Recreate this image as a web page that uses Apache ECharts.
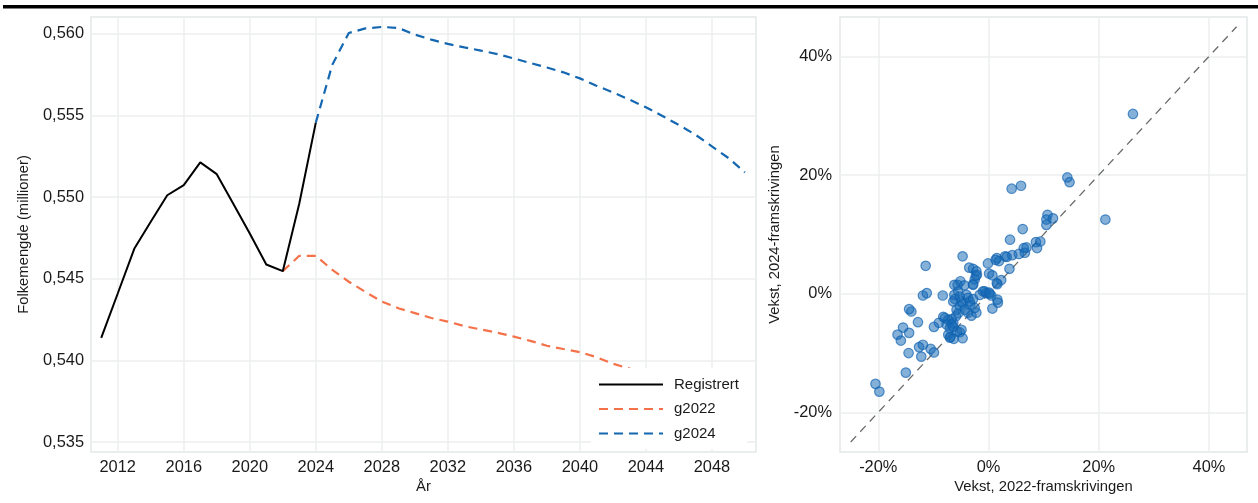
<!DOCTYPE html>
<html>
<head>
<meta charset="utf-8">
<script src="https://cdn.jsdelivr.net/npm/echarts@6/dist/echarts.min.js"></script>
<style>
html,body{margin:0;padding:0;background:#fff;}
#chart{width:1258px;height:503px;}
</style>
</head>
<body>
<div id="chart"></div>
<script>
// ---- Left panel data ----
const registrertYears = [2011,2012,2013,2014,2015,2016,2017,2018,2019,2020,2021,2022,2023,2024];
const registrertValues = [0.54138,0.5441,0.54684,0.5485,0.55012,0.55074,0.55213,0.55141,0.5496,0.54778,0.54588,0.54547,0.54961,0.55457];

const g2022Years = [2022,2023,2024,2025,2026,2027,2028,2029,2030,2031,2032,2033,2034,2035,2036,2037,2038,2039,2040,2041,2042,2043,2044,2045,2046,2047,2048,2049,2050];
const g2022Values = [0.54547,0.54641,0.54641,0.54555,0.54482,0.5442,0.54361,0.5432,0.5429,0.5426,0.54238,0.5421,0.5419,0.5417,0.54146,0.5412,0.5409,0.5407,0.54051,0.5402,0.5398,0.5395,0.5392,0.5389,0.5385,0.5381,0.5378,0.5374,0.5370];

const g2024Years = [2024,2025,2026,2027,2028,2029,2030,2031,2032,2033,2034,2035,2036,2037,2038,2039,2040,2041,2042,2043,2044,2045,2046,2047,2048,2049,2050];
const g2024Values = [0.55457,0.55812,0.56006,0.56034,0.56043,0.56037,0.55996,0.55965,0.55939,0.55918,0.55898,0.55877,0.5585,0.55822,0.55795,0.55765,0.55728,0.55683,0.55642,0.55598,0.55551,0.55498,0.55442,0.55383,0.55311,0.5524,0.55152];

const leftXTicks = [2012,2016,2020,2024,2028,2032,2036,2040,2044,2048];
const leftYTicks = [0.535,0.540,0.545,0.550,0.555,0.560];

// ---- Right panel data (percent growth) ----
const vekst2022 = [26.2,14.3,14.7,4.2,5.9,21.2,10.7,10.5,11.7,10.5,6.2,3.9,8.6,9.4,8.8,6.9,6.4,1.5,3.0,4.3,5.5,6.6,3.3,1.3,1.9,-0.1,-4.7,-11.4,3.8,-3.5,-2.8,-2.2,-2.3,-2.5,-2.1,0.1,0.7,1.5,2.3,1.6,-6.2,-5.6,-5.1,-4.4,-2.8,-2.8,-8.3,-11.9,-11.2,-6.2,-6.1,-6.4,-5.5,-5.2,-4.9,-4.6,-4.0,-3.7,-3.4,-3.3,-2.8,-1.6,-1.0,-0.7,-0.4,0.2,0.5,0.1,1.6,1.7,0.7,-5.8,-5.5,-5.9,-5.2,-4.3,-3.7,-3.1,-2.2,-2.5,-8.2,-7.3,-6.7,-6.4,-7.9,-9.0,-9.9,-7.6,-7.0,-6.7,-6.4,-5.7,-5.2,-4.9,-7.3,-6.9,-6.3,-4.7,-7.0,-12.8,-14.0,-14.4,-15.5,-16.5,-15.9,-14.4,-12.6,-11.9,-14.5,-12.2,-10.5,-9.9,-15.0,-20.5,-19.8];
const vekst2024 = [30.3,19.6,18.8,17.7,18.2,12.5,13.3,12.5,12.7,11.6,10.9,9.1,8.7,8.8,7.7,7.8,7.7,6.0,6.3,6.5,6.7,6.9,6.2,5.7,5.5,5.1,6.3,4.7,4.2,4.4,4.2,3.8,3.0,2.4,3.2,3.4,3.1,1.8,2.3,1.6,1.5,1.5,2.1,1.4,1.5,1.6,-0.3,-0.3,0.1,-0.2,-0.9,-1.3,0.4,-0.5,-1.3,-1.6,-0.2,-0.7,-1.3,-1.9,-0.9,-0.2,0.4,0.4,0.1,0.0,-0.3,0.2,-1.0,-1.5,-2.5,-2.7,-3.3,-3.8,-2.1,-2.7,-3.2,-3.7,-3.2,-2.4,-3.9,-4.4,-4.3,-4.9,-4.1,-4.9,-5.6,-5.2,-5.8,-5.2,-5.6,-6.4,-6.5,-6.1,-6.9,-7.3,-7.6,-7.5,-7.4,-4.8,-3.0,-2.6,-5.7,-6.9,-7.9,-6.6,-9.0,-8.6,-10.0,-10.6,-9.3,-9.9,-13.3,-15.2,-16.5];
const diagonal = [-25, 45];
const rightTicks = [-20, 0, 20, 40];

const FONT = "'Liberation Sans', Arial, sans-serif";
const TXT = '#1a1a1a';
const GRIDC = '#ECEFEF';
const BORDERC = '#E4E8E8';

const zip = (a, b) => a.map((v, i) => [v, b[i]]);

const chart = echarts.init(document.getElementById('chart'), null, {renderer: 'canvas'});

const option = {
  animation: false,
  backgroundColor: '#fff',
  textStyle: {fontFamily: FONT},
  graphic: [{
    type: 'rect', left: 3, top: 5, shape: {width: 1255, height: 3.4},
    style: {fill: '#000'}, silent: true
  }],
  grid: [
    {left: 91, top: 17, width: 665, height: 435, show: true, borderColor: BORDERC, borderWidth: 1.5, backgroundColor: '#fff'},
    {left: 840, top: 17, width: 407, height: 435, show: true, borderColor: BORDERC, borderWidth: 1.5, backgroundColor: '#fff'}
  ],
  legend: {
    data: ['Registrert', 'g2022', 'g2024'],
    orient: 'vertical',
    left: 591, top: 368,
    backgroundColor: '#fff',
    padding: [9, 8, 8, 7],
    itemWidth: 64, itemHeight: 14, itemGap: 9.5,
    itemStyle: {opacity: 0},
    textStyle: {fontFamily: FONT, fontSize: 15, color: TXT, padding: [0, 0, 0, 6]}
  },
  xAxis: [
    {
      gridIndex: 0, type: 'value', min: 2010.38, max: 2050.67,
      name: 'År', nameLocation: 'middle', nameGap: 24,
      nameTextStyle: {fontFamily: FONT, fontSize: 14.8, color: TXT},
      axisLine: {show: false},
      axisTick: {show: false, customValues: leftXTicks},
      axisLabel: {customValues: leftXTicks, fontFamily: FONT, fontSize: 16.4, color: TXT, margin: 7, formatter: v => String(v)},
      splitLine: {show: true, lineStyle: {color: GRIDC, width: 1.5}}
    },
    {
      gridIndex: 1, type: 'value', min: -26.94, max: 46.89,
      name: 'Vekst, 2022-framskrivingen', nameLocation: 'middle', nameGap: 25,
      nameTextStyle: {fontFamily: FONT, fontSize: 14.8, color: TXT},
      axisLine: {show: false},
      axisTick: {show: false, customValues: rightTicks},
      axisLabel: {customValues: rightTicks, fontFamily: FONT, fontSize: 16.4, color: TXT, margin: 7, formatter: v => v + '%'},
      splitLine: {show: true, lineStyle: {color: GRIDC, width: 1.5}}
    }
  ],
  yAxis: [
    {
      gridIndex: 0, type: 'value', min: 0.53439, max: 0.56104,
      name: 'Folkemengde (millioner)', nameLocation: 'middle', nameGap: 60,
      nameTextStyle: {fontFamily: FONT, fontSize: 14.8, color: TXT},
      axisLine: {show: false},
      axisTick: {show: false, customValues: leftYTicks},
      axisLabel: {customValues: leftYTicks, fontFamily: FONT, fontSize: 16.4, color: TXT, margin: 7,
        formatter: v => v.toFixed(3).replace('.', ',')},
      splitLine: {show: true, lineStyle: {color: GRIDC, width: 1.5}}
    },
    {
      gridIndex: 1, type: 'value', min: -26.68, max: 46.64,
      name: 'Vekst, 2024-framskrivingen', nameLocation: 'middle', nameGap: 58,
      nameTextStyle: {fontFamily: FONT, fontSize: 14.8, color: TXT},
      axisLine: {show: false},
      axisTick: {show: false, customValues: rightTicks},
      axisLabel: {customValues: rightTicks, fontFamily: FONT, fontSize: 16.4, color: TXT, margin: 8, formatter: v => v + '%'},
      splitLine: {show: true, lineStyle: {color: GRIDC, width: 1.5}}
    }
  ],
  series: [
    {
      name: 'Registrert', type: 'line', xAxisIndex: 0, yAxisIndex: 0,
      data: zip(registrertYears, registrertValues), symbol: 'none',
      lineStyle: {color: '#000', width: 2, type: 'solid'}, itemStyle: {color: '#000'}, z: 3
    },
    {
      name: 'g2022', type: 'line', xAxisIndex: 0, yAxisIndex: 0,
      data: zip(g2022Years, g2022Values), symbol: 'none',
      lineStyle: {color: '#F4714A', width: 2.2, type: [9, 6]}, itemStyle: {color: '#F4714A'}, z: 2
    },
    {
      name: 'g2024', type: 'line', xAxisIndex: 0, yAxisIndex: 0,
      data: zip(g2024Years, g2024Values), symbol: 'none',
      lineStyle: {color: '#1467B0', width: 2.2, type: [9, 6]}, itemStyle: {color: '#1467B0'}, z: 2
    },
    {
      name: 'diag', type: 'line', xAxisIndex: 1, yAxisIndex: 1,
      data: zip(diagonal, diagonal), symbol: 'none', silent: true,
      lineStyle: {color: '#6b6b6b', width: 1.3, type: [8, 6]}, z: 2
    },
    {
      name: 'vekst', type: 'scatter', xAxisIndex: 1, yAxisIndex: 1,
      data: zip(vekst2022, vekst2024), symbolSize: 9.5,
      itemStyle: {color: 'rgba(22,106,182,0.65)', borderColor: 'rgba(16,98,176,0.85)', borderWidth: 1.2}, z: 3
    }
  ]
};
chart.setOption(option);
</script>
</body>
</html>
